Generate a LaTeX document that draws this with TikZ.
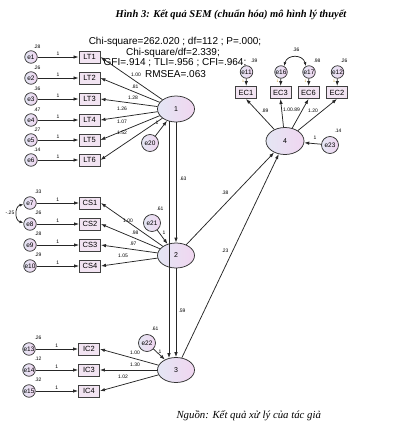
\documentclass[tikz,border=0pt]{standalone}
\usepackage{fontspec}
\setmainfont{Liberation Serif}
\setsansfont{Liberation Sans}
\usetikzlibrary{arrows.meta,shapes.geometric}
\definecolor{latL}{HTML}{E4E6F4}
\definecolor{latR}{HTML}{F0D6F0}
\definecolor{boxF}{HTML}{F2E4F2}
\definecolor{oneC}{HTML}{C08A10}
\begin{document}
\begin{tikzpicture}[x=1pt,y=-1pt,
  lat/.style={ellipse,draw=black!80,line width=0.75pt,minimum width=37pt,minimum height=26pt,inner sep=0pt,left color=latL,right color=latR,font=\sffamily\fontsize{7}{8}\selectfont},
  err/.style={circle,draw=black!80,line width=0.75pt,minimum size=12.5pt,inner sep=0pt,left color=latL,right color=latR,font=\sffamily\fontsize{6.5}{7}\selectfont},
  bigerr/.style={err,minimum size=17pt},
  obs/.style={rectangle,draw=black!75,line width=0.9pt,minimum width=21pt,minimum height=12pt,inner sep=0pt,fill=boxF,font=\sffamily\fontsize{7.5}{8}\selectfont},
  arr/.style={draw=black!85,line width=0.75pt,-{Latex[length=5pt,width=3.5pt]}},
  darr/.style={draw=black!85,line width=0.75pt,{Latex[length=4pt,width=3pt]}-{Latex[length=4pt,width=3pt]}},
  lbl/.style={font=\sffamily\fontsize{5}{5}\selectfont,inner sep=0pt},
  tiny1/.style={font=\sffamily\fontsize{3.5}{4}\selectfont,inner sep=0pt,text=oneC},
  fitline/.style={font=\sffamily\fontsize{10}{10}\selectfont,inner sep=0pt},
]
\useasboundingbox (0,0) rectangle (401,432);

% title and source
\node[font=\rmfamily\bfseries\itshape\fontsize{10.5}{12}\selectfont] (title) at (231,15) {Hình 3: Kết quả SEM (chuẩn hóa) mô hình lý thuyết};
\node[anchor=west,font=\rmfamily\itshape\fontsize{10.8}{12}\selectfont] (src) at (173,416) {Nguồn: Kết quả xử lý của tác giả};

% fit statistics
\node[fitline] (f1) at (175,42) {Chi-square=262.020 ; df=112 ; P=.000;};
\node[fitline] (f2) at (173,53) {Chi-square/df=2.339;};
\node[fitline] (f3) at (175,63) {GFI=.914 ; TLI=.956 ; CFI=.964;};
\node[fitline] (f4) at (175.5,74) {RMSEA=.063};

% latent variables
\node[lat] (n1) at (176,109) {1};
\node[lat,minimum height=25pt] (n2) at (176,255.5) {2};
\node[lat,minimum height=25pt] (n3) at (176,370) {3};
\node[lat,minimum width=38pt,minimum height=27pt] (n4) at (285,141) {4};

% LT block
\foreach \i/\y/\v in {1/57/.28,2/78/.26,3/99/.36,4/120/.47,5/140/.27,6/160/.14}{
  \node[err] (e\i) at (31,\y) {e\i};
  \node[obs] (lt\i) at (89.5,\y) {LT\i};
  \node[lbl] (ve\i) at (37,\y-10) {\v};
  \draw[arr] (e\i) -- node[lbl,above=1.6pt] (w\i) {1} (lt\i);
  \draw[arr] (n1) -- (lt\i.east);
}
\foreach \v/\x/\y [count=\k] in {1.00/136/75,.81/135/87,1.28/133/98,1.26/122/109,1.07/122/122,1.52/122/133}{
  \node[lbl] (llt\k) at (\x,\y) {\v};
}

% CS block
\foreach \i/\j/\y/\v in {7/1/203/.33,8/2/224/.26,9/3/245/.28,10/4/266/.29}{
  \node[err] (e\i) at (30,\y) {e\i};
  \node[obs] (cs\j) at (90,\y) {CS\j};
  \node[lbl] (ve\i) at (38,\y-11) {\v};
  \draw[arr] (e\i) -- node[lbl,above=1.6pt] (w\i) {1} (cs\j);
  \draw[arr] (n2) -- (cs\j.east);
}
\foreach \v/\x/\y [count=\k] in {1.00/128/221,.98/135/233,.97/133/244,1.05/123/256}{
  \node[lbl] (lcs\k) at (\x,\y) {\v};
}
\draw[darr] (e7.192) .. controls +(-9,2) and +(-9,-2) .. (e8.168);
\node[lbl] (c78) at (10,213) {-.25};

% IC block
\foreach \i/\j/\y/\v in {13/2/349/.26,14/3/370/.12,15/4/391/.32}{
  \node[err] (e\i) at (29,\y) {e\i};
  \node[obs] (ic\j) at (89,\y) {IC\j};
  \node[lbl] (ve\i) at (38,\y-11) {\v};
  \draw[arr] (e\i) -- node[lbl,above=1.6pt] (w\i) {1} (ic\j);
  \draw[arr] (n3) -- (ic\j.east);
}
\foreach \v/\x/\y [count=\k] in {1.00/135/353,1.30/135/365,1.02/123/377}{
  \node[lbl] (lic\k) at (\x,\y) {\v};
}

% EC block
\foreach \i/\j/\x in {11/1/246,16/3/280.5,17/6/308.5,12/2/337}{
  \node[obs] (ec\j) at (\x,92.5) {EC\j};
  \node[err] (e\i) at (\x+0.5,72) {e\i};
  \draw[arr] (e\i) -- (ec\j);
  \node[tiny1] (o\i) at (\x-3,81) {1};
  \draw[arr] (n4) -- (ec\j.south);
}
\node[lbl] (ve11) at (254,61) {.39};
\node[lbl] (ve17) at (317,61) {.98};
\node[lbl] (ve12) at (344,61) {.26};
\draw[darr] (e16.62) .. controls +(3,-12) and +(-3,-12) .. (e17.118);
\node[lbl] (c1617) at (296,50) {.36};
\node[lbl] (lec1) at (265,111) {.89};
\node[lbl] (lec3) at (288,110) {1.00};
\node[lbl] (lec6) at (296.5,110) {.89};
\node[lbl] (lec2) at (313,111) {1.20};

% disturbances
\node[bigerr] (e20) at (150,143) {e20};
\draw[arr] (e20) -- (n1);
\node[lbl] (w20) at (157,123) {1};
\node[bigerr] (e21) at (152,223) {e21};
\draw[arr] (e21) -- (n2);
\node[lbl] (v21) at (160,209) {.61};
\node[lbl] (w21) at (164,233) {1};
\node[bigerr] (e22) at (147,343) {e22};
\draw[arr] (e22) -- (n3);
\node[lbl] (v22) at (155,329) {.61};
\node[lbl] (w22) at (160,352) {1};
\node[bigerr] (e23) at (330,145) {e23};
\draw[arr] (e23) -- (n4);
\node[lbl] (v23) at (338,131) {.14};
\node[lbl] (w23) at (315,138) {1};

% structural paths
\draw[arr] (n1.south) -- (n2.north);
\draw[arr] (n2.south) -- (n3.north);
\draw[arr] ([xshift=-7pt,yshift=1pt]n1.south) -- ([xshift=-7pt,yshift=-1pt]n3.north);
\node[lbl] (p12) at (183,179) {.63};
\node[lbl] (p23) at (182,311) {.59};
\draw[arr] (n2) -- (n4);
\draw[arr] (n3) -- (n4);
\node[lbl] (p24) at (225,193) {.38};
\node[lbl] (p34) at (225,251) {.23};
\end{tikzpicture}
\end{document}
